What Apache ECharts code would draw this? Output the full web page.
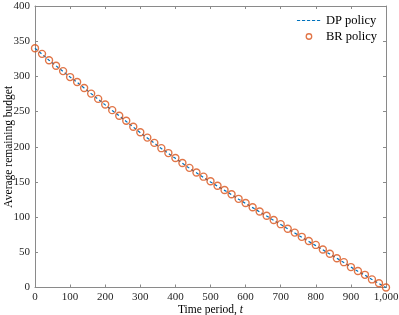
<!DOCTYPE html>
<html>
<head>
<meta charset="utf-8">
<script src="https://cdn.jsdelivr.net/npm/echarts@6/dist/echarts.min.js"></script>
<style>html,body{margin:0;padding:0;background:#fff}#c{width:399px;height:315px}</style>
</head>
<body>
<div id="c"></div>
<script>
var tValues = [0,20,40,60,80,100,120,140,160,180,200,220,240,260,280,300,320,340,360,380,400,420,440,460,480,500,520,540,560,580,600,620,640,660,680,700,720,740,760,780,800,820,840,860,880,900,920,940,960,980,1000];
var brPolicy = [340,332,323,315,307.5,299,292,283.5,275.5,268,260,252,244,237,228.5,220.5,213,205.5,198,191,184,177,170,163.5,157.5,151,144.5,138.5,132.5,126,120,114,108,102,96,90,83.5,78,72,66,60.5,54,48,41.5,36,29,23.5,18,11.5,6,0];
var dpPolicy = [340,331.5,323,315,307,299,291.5,283.5,275.5,267.5,259.5,251.5,244,236,228,220,212.5,205,197.5,190.5,183.5,176.5,169.5,163,156.5,150,144,138,132,125.5,119.5,113.5,107.5,101.5,95.5,89.5,83.5,77.5,71.5,65.5,59.5,53.5,47.5,41.5,35.5,29,23,17.5,11.5,5.5,0];
var xTicks = [0,100,200,300,400,500,600,700,800,900,1000];
var yTicks = [0,50,100,150,200,250,300,350,400];

var chart = echarts.init(document.getElementById('c'), null, {renderer:'canvas'});
var font = '"Liberation Serif", "DejaVu Serif", serif';
var axisColor = '#8a8a8a';
var labelColor = '#262626';
function zip(a,b){return a.map(function(v,i){return [v,b[i]];});}
var baseAxis = {
  axisLine:{show:true,onZero:false,lineStyle:{color:axisColor,width:1}},
  axisTick:{show:true,inside:true,length:3,lineStyle:{color:axisColor,width:1}},
  splitLine:{show:false}
};
var dashIcon = 'path://M0,3.4h3.2v1.2h-3.2z M5,3.4h3.2v1.2h-3.2z M10,3.4h3.2v1.2h-3.2z M15,3.4h3.2v1.2h-3.2z M20,3.4h3.2v1.2h-3.2z M0,0h0.01v0.01h-0.01z M23.99,7.99h0.01v0.01h-0.01z';
var ringIcon = 'path://M0,0h0.01v0.01h-0.01z M23.99,7.99h0.01v0.01h-0.01z M12,0.6a3.4,3.4 0 1,0 0.001,0z M12,1.9a2.1,2.1 0 1,1 -0.001,0z';
chart.setOption({
  animation:false,
  textStyle:{fontFamily:font},
  grid:{left:35,right:13,top:6,bottom:27.5,containLabel:false,outerBoundsMode:'none'},
  legend:{
    right:17, top:9, orient:'vertical', itemWidth:24, itemHeight:8, itemGap:3,
    textStyle:{fontFamily:font,fontSize:12.5,color:'#000'},
    data:[
      {name:'DP policy',icon:dashIcon,itemStyle:{color:'#0072BD',borderWidth:0}},
      {name:'BR policy',icon:ringIcon,itemStyle:{color:'#D95319',borderWidth:0}}
    ]
  },
  xAxis:[
    Object.assign({}, baseAxis, {type:'value',min:0,max:1000,interval:100,position:'bottom',
      axisLabel:{fontFamily:font,fontSize:11,color:labelColor,margin:4,
        formatter:function(v){return xTicks.indexOf(v)>=0 ? (v>=1000 ? '1,000' : String(v)) : '';}},
      name:'{n|Time period, }{i|t}', nameLocation:'middle', nameGap:16, nameMoveOverlap:false,
      nameTextStyle:{rich:{n:{fontFamily:font,fontSize:11.5,color:'#000'},i:{fontFamily:font,fontSize:11.5,fontStyle:'italic',color:'#000'}}}
    }),
    Object.assign({}, baseAxis, {type:'value',min:0,max:1000,interval:100,position:'top',axisLabel:{show:false}})
  ],
  yAxis:[
    Object.assign({}, baseAxis, {type:'value',min:0,max:400,interval:50,position:'left',
      axisLabel:{fontFamily:font,fontSize:11,color:labelColor,margin:5,
        formatter:function(v){return yTicks.indexOf(v)>=0 ? String(v) : '';}},
      name:'Average remaining budget', nameLocation:'middle', nameGap:20, nameMoveOverlap:false,
      nameTextStyle:{fontFamily:font,fontSize:11.5,color:'#000'}
    }),
    Object.assign({}, baseAxis, {type:'value',min:0,max:400,interval:50,position:'right',axisLabel:{show:false}})
  ],
  series:[
    {name:'DP policy',type:'line',data:zip(tValues,dpPolicy),symbol:'none',
      lineStyle:{color:'#0072BD',width:1.2,type:[3,2.5]},itemStyle:{color:'#0072BD'},z:2},
    {name:'BR policy',type:'scatter',data:zip(tValues,brPolicy),symbol:'circle',symbolSize:7,
      itemStyle:{color:'rgba(0,0,0,0)',borderColor:'#D95319',borderWidth:1.4},z:3}
  ]
});
</script>
</body>
</html>
